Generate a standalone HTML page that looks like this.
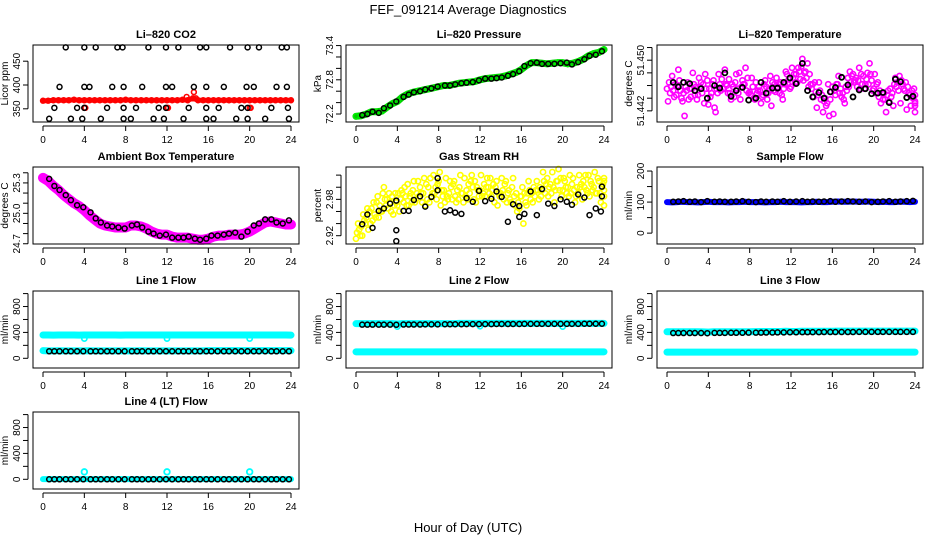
<!DOCTYPE html>
<html><head><meta charset="utf-8">
<style>
html,body{margin:0;padding:0;background:#fff;}
svg{display:block;font-family:"Liberation Sans",Arial,sans-serif;}
</style></head>
<body>
<svg id="chart" width="936" height="540" viewBox="0 0 936 540" xmlns="http://www.w3.org/2000/svg">
<rect width="936" height="540" fill="#fff"/>
<text x="468" y="14" font-size="13" text-anchor="middle">FEF_091214  Average Diagnostics</text>
<text x="468" y="532" font-size="13" text-anchor="middle">Hour of Day (UTC)</text>
</svg>
<script>
// ---- data ----
const hoursDense = [0,0.5,1,1.5,2,2.5,3,3.5,4,4.5,5,5.5,6,6.5,7,7.5,8,8.5,9,9.5,10,10.5,11,11.5,12,12.5,13,13.5,14,14.5,15,15.5,16,16.5,17,17.5,18,18.5,19,19.5,20,20.5,21,21.5,22,22.5,23,23.5,24];
const hoursBlack = [0.6,1.1,1.6,2.2,2.7,3.3,3.9,4.6,5.1,5.6,6.2,6.7,7.3,7.9,8.6,9.1,9.6,10.2,10.7,11.3,11.9,12.5,13.1,13.6,14.1,14.7,15.2,15.8,16.3,16.9,17.5,18,18.6,19.2,19.8,20.4,20.9,21.5,22.1,22.6,23.2,23.8];
const xTicks = [0,4,8,12,16,20,24];

// CO2
const co2Red = [367,367,368,368,368,368,369,368,368,368,368,368,368,368,368,368,369,368,368,368,368,368,368,368,368,368,368,369,368,372,368,368,368,368,368,368,368,368,368,368,368,368,368,368,368,368,368,368,368];
const co2RedExtraH = [13.9,14.6,14.8,4,4.1,12,12.1,20,20.1];
const co2RedExtraV = [375,385,372,352,352,352,352,352,352];
const co2BlackH = [2.2,4.0,5.1,7.2,7.7,10.2,11.9,13.1,15.2,15.8,18.1,19.8,20.9,23.1,23.6, 1.6,4.0,4.5,6.7,7.8,9.6,11.9,12.5,14.6,15.8,17.5,19.7,20.4,22.6,23.6, 1.1,3.3,4.0,6.2,7.8,9.0,11.2,11.9,14.1,15.8,17.0,19.2,19.8,22.1,23.7, 0.6,2.7,3.8,5.6,7.8,8.5,10.7,11.7,13.6,15.8,16.5,18.7,19.8,21.5,23.8];
const co2BlackV = [479,479,479,479,479,479,479,479,479,479,479,479,479,479,479, 396,396,396,396,396,396,396,396,396,396,396,396,396,396,396, 352,352,352,352,352,352,352,352,352,352,352,352,352,352,352, 329,329,329,329,329,329,329,329,329,329,329,329,329,329,329];
const co2Ticks = [350,400,450];
const co2Labels = ["350","400","450"];

// Pressure
const presGreen = [72.16,72.17,72.2,72.24,72.24,72.25,72.32,72.38,72.42,72.5,72.55,72.58,72.6,72.62,72.64,72.66,72.68,72.7,72.7,72.72,72.74,72.75,72.76,72.77,72.8,72.82,72.83,72.84,72.85,72.87,72.9,72.93,72.98,73.05,73.1,73.1,73.09,73.08,73.09,73.1,73.1,73.08,73.09,73.12,73.16,73.22,73.26,73.28,73.33];
const presBlack = [72.18,72.2,72.24,72.22,72.3,72.35,72.42,72.5,72.54,72.58,72.6,72.63,72.65,72.68,72.7,72.7,72.72,72.74,72.75,72.76,72.79,72.82,72.82,72.83,72.84,72.87,72.9,72.95,73.04,73.09,73.1,73.08,73.08,73.08,73.09,73.1,73.07,73.11,73.16,73.22,73.24,73.3];
const presTicks = [72.2,72.4,72.6,72.8,73.0,73.2,73.4];
const presLabels = ["72.2","","","72.8","","","73.4"];

// Li-820 temperature
const tempMag1 = [51.4455,51.4475,51.446,51.4435,51.4465,51.448,51.4445,51.4462,51.443,51.4468,51.4478,51.4455,51.447,51.4442,51.448,51.4462,51.445,51.4438,51.4452,51.4468,51.4475,51.445,51.4465,51.4482,51.4458,51.4478,51.449,51.4472,51.4455,51.4425,51.4445,51.4432,51.4458,51.4462,51.4448,51.4472,51.4478,51.4468,51.4475,51.4462,51.4455,51.4442,51.4448,51.4435,51.4462,51.4475,51.4452,51.4445,51.4428];
const tempMag2 = [51.4435,51.4452,51.4485,51.4448,51.4438,51.4462,51.4472,51.4432,51.4455,51.4425,51.4462,51.4485,51.4448,51.4465,51.4438,51.4488,51.4445,51.4465,51.4432,51.4458,51.4428,51.4472,51.4445,51.4478,51.4488,51.4465,51.4502,51.4495,51.4462,51.4445,51.4418,51.4462,51.4415,51.4475,51.4438,51.4458,51.4465,51.4488,51.4455,51.4495,51.4478,51.4452,51.4438,51.4455,51.4472,51.4432,51.4465,51.4428,51.4445];
const tempMag3 = [51.4465,51.4442,51.4468,51.4412,51.4455,51.4445,51.4458,51.4478,51.4442,51.4418,51.4452,51.4462,51.4438,51.4478,51.4458,51.4452,51.4472,51.4448,51.4442,51.4438,51.4465,51.4458,51.4438,51.4462,51.4472,51.4488,51.4468,51.4458,51.4442,51.4465,51.4435,51.4412,51.4452,51.4448,51.4432,51.4482,51.4468,51.4455,51.4462,51.4478,51.4448,51.4432,51.4418,51.4442,51.4458,51.4468,51.4422,51.4452,51.4418];
const tempMag4 = [51.4448,51.4462,51.4452,51.4458,51.4442,51.4458,51.4465,51.4455,51.4448,51.4455,51.4470,51.4460,51.4462,51.4455,51.4468,51.4472,51.4458,51.4452,51.4445,51.4448,51.4452,51.4462,51.4455,51.4470,51.4478,51.4482,51.4480,51.4478,51.4465,51.4452,51.4440,51.4438,51.4445,51.4455,51.4458,51.4465,51.4472,51.4478,51.4470,51.4468,51.4462,51.4448,51.4445,51.4448,51.4465,51.4462,51.4458,51.4440,51.4435];
const tempMag5 = [51.4458,51.4445,51.4440,51.4452,51.4455,51.4438,51.4448,51.4468,51.4462,51.4448,51.4455,51.4448,51.4458,51.4448,51.4462,51.4448,51.4440,51.4458,51.4462,51.4455,51.4462,51.4448,51.4462,51.4455,51.4465,51.4470,51.4482,51.4462,51.4450,51.4438,51.4428,51.4450,51.4462,51.4442,51.4452,51.4475,51.4458,51.4462,51.4480,51.4452,51.4465,51.4438,51.4452,51.4428,51.4452,51.4455,51.4448,51.4455,51.4432];
const tempBlack = [51.4465,51.4458,51.4465,51.4463,51.4452,51.4455,51.4440,51.4460,51.4456,51.4480,51.4443,51.4452,51.4457,51.4437,51.4440,51.4465,51.4448,51.4456,51.4456,51.4465,51.4472,51.4463,51.4495,51.4452,51.4442,51.4449,51.4440,51.4450,51.4457,51.4473,51.4461,51.4442,51.4453,51.4455,51.4447,51.4448,51.4449,51.4433,51.4470,51.4466,51.4441,51.4443];
const tempTicks = [51.442,51.444,51.446,51.448,51.450,51.452];
const tempLabels = ["51.442","","","","51.450",""];

// Ambient box temperature
const ambMag = [25.35,25.32,25.27,25.23,25.18,25.14,25.1,25.07,25.03,24.98,24.94,24.90,24.88,24.87,24.86,24.86,24.86,24.88,24.88,24.87,24.85,24.82,24.80,24.79,24.79,24.77,24.76,24.76,24.76,24.75,24.74,24.74,24.75,24.77,24.78,24.78,24.79,24.79,24.79,24.80,24.82,24.85,24.88,24.91,24.92,24.91,24.90,24.89,24.89];
const ambBlack = [25.34,25.27,25.23,25.18,25.13,25.08,25.06,25.01,24.95,24.91,24.88,24.87,24.86,24.85,24.88,24.89,24.86,24.82,24.80,24.78,24.79,24.76,24.76,24.76,24.77,24.75,24.74,24.75,24.78,24.78,24.79,24.80,24.81,24.77,24.82,24.88,24.90,24.94,24.94,24.91,24.90,24.93];
const ambTicks = [24.7,24.8,24.9,25.0,25.1,25.2,25.3,25.4];
const ambLabels = ["24.7","","","25.0","","","25.3",""];

// Gas stream RH
const rhY1 = [2.915,2.935,2.95,2.965,2.975,2.96,2.98,2.985,2.97,2.99,3.005,2.995,3.01,2.99,3.0,3.02,3.01,2.995,2.99,3.01,3.0,3.015,2.99,3.01,2.995,2.985,3.015,3.0,2.99,3.01,2.975,2.99,2.985,2.97,2.99,3.01,2.995,3.015,3.025,3.01,2.995,3.0,3.015,2.99,3.01,3.02,3.0,3.01,3.015];
const rhY2 = [2.925,2.92,2.965,2.945,2.985,2.99,2.965,2.955,2.99,2.975,2.97,3.01,2.985,3.015,2.975,2.99,3.025,2.975,3.01,2.985,3.02,2.985,3.01,2.975,3.02,3.0,2.985,3.01,3.015,2.975,3.0,2.96,3.0,2.99,2.975,2.995,3.025,2.985,3.0,3.03,3.015,2.985,2.995,3.02,3.0,2.985,3.025,2.99,2.995];
const rhY3 = [2.94,2.955,2.93,2.975,2.95,3.0,2.99,2.97,2.96,3.0,2.985,2.975,3.0,2.97,3.015,3.0,2.97,3.015,3.0,2.975,2.99,2.995,3.02,3.0,2.985,3.015,2.995,2.97,2.995,2.99,3.015,2.975,2.94,3.01,3.0,2.98,3.01,3.0,2.975,2.995,3.01,3.02,2.975,3.0,3.02,3.01,2.99,2.975,3.01];
const rhY4 = [2.93,2.945,2.96,2.955,2.97,2.98,2.975,2.99,2.98,2.985,2.99,2.98,2.99,3.005,2.985,2.98,2.995,2.985,2.98,2.995,2.99,2.98,3.0,2.995,2.99,3.0,3.005,2.99,2.98,2.995,2.985,2.965,2.99,2.995,2.985,3.0,2.99,3.005,2.995,3.015,3.0,2.99,2.985,3.005,2.995,3.005,2.99,3.0,2.985];
const rhY5 = [2.92,2.94,2.94,2.95,2.96,2.97,2.96,2.975,2.995,2.97,2.975,2.99,2.975,2.98,2.99,3.005,2.985,2.98,3.005,2.98,2.975,3.005,2.98,2.985,3.005,2.99,2.975,2.985,3.005,2.98,2.97,2.985,2.975,2.98,2.995,2.985,3.005,2.99,3.01,2.985,2.99,3.005,3.0,2.98,2.99,2.995,3.015,3.005,2.97];
const rhBlack = [2.939,2.955,2.933,2.961,2.965,2.973,2.978,2.961,2.961,2.979,2.985,2.968,2.984,2.995,2.96,2.962,2.958,2.956,2.982,2.976,2.994,2.977,2.981,2.993,2.984,2.943,2.972,2.969,2.956,2.993,2.954,2.997,2.973,2.969,2.98,2.976,2.971,2.988,2.983,2.954,2.965,3.001];
const rhExtraH = [3.9,3.9,7.9,15.8,23.8,23.7];
const rhExtraV = [2.929,2.911,3.015,2.951,2.985,2.96];
const rhTicks = [2.92,2.94,2.96,2.98,3.00,3.02];
const rhLabels = ["2.92","","","2.98","",""];

// Sample flow
const sampBlue = [100,99,100,101,100,100,99,100,101,100,100,100,99,100,100,101,100,100,100,99,100,100,101,100,100,100,99,100,100,101,100,100,101,102,101,101,102,101,101,102,101,100,101,100,100,101,101,100,101];
const sampBlack = [101,102,103,101,102,100,103,101,102,101,101,102,103,101,100,102,101,102,101,103,101,102,103,101,102,101,102,103,101,102,103,102,101,102,100,101,102,103,101,102,103,104];
const sampTicks = [0,50,100,150,200];
const sampLabels = ["0","","100","","200"];

// Line flows
const flowTicks = [0,200,400,600,800,1000];
const flowLabels = ["0","","400","","800",""];
const l1CyanHi = [360,360,358,360,360,360,360,358,360,360,360,360,360,360,360,358,360,360,360,360,360,360,360,360,360,360,360,360,360,360,360,360,360,360,360,360,360,360,360,360,360,360,360,360,360,360,360,360,358];
const l1CyanLo = [118,115,115,116,115,115,115,115,115,116,115,115,115,115,115,115,115,115,115,116,115,115,115,115,115,115,115,115,115,115,115,115,118,118,118,118,118,118,118,118,118,118,118,118,118,118,118,118,118];
const l1Black = [108,108,108,108,108,108,108,108,108,108,108,108,108,108,108,108,108,108,108,108,108,108,108,108,108,108,108,108,108,108,108,108,108,108,108,108,108,108,108,108,108,108];
const l1DipH = [4,12,20];
const l1DipV = [305,305,305];
const l2CyanHi = [535,535,535,535,535,535,535,535,530,535,535,535,535,535,535,535,535,535,535,535,540,540,540,540,540,540,540,540,540,540,540,540,540,540,540,540,540,540,540,540,540,540,540,540,540,540,540,540,540];
const l2CyanLo = [100,100,100,100,100,100,100,100,100,100,100,100,100,100,100,100,100,100,100,100,100,100,100,100,100,100,100,100,100,100,100,100,100,100,100,100,100,100,100,100,100,100,100,100,100,100,100,100,100];
const l2Black = [520,520,520,520,520,520,518,522,522,522,522,524,524,524,526,526,526,526,528,528,528,528,528,530,530,530,530,530,532,532,532,532,532,532,532,532,532,532,534,534,534,534];
const l2DipH = [4,12,20];
const l2DipV = [490,495,490];
const l3CyanHi = [410,410,410,410,410,410,410,408,405,410,410,410,410,410,410,410,410,412,415,415,415,415,415,418,415,415,418,418,418,418,418,418,418,420,420,420,420,420,420,420,420,420,420,420,420,420,420,420,420];
const l3CyanLo = [95,95,95,95,95,95,95,95,95,95,95,95,95,95,95,95,95,95,95,95,95,95,95,95,95,95,95,95,95,95,95,95,95,95,95,95,95,95,95,95,95,95,95,95,95,95,95,95,95];
const l3Black = [390,390,390,390,390,390,388,392,392,392,394,394,394,396,396,396,398,398,400,400,402,402,404,404,404,404,406,406,406,406,406,406,408,408,408,408,408,408,408,408,408,408];
const l4Cyan = [2,2,2,2,2,2,2,2,2,2,2,2,2,2,2,2,2,2,2,2,2,2,2,2,2,2,2,2,2,2,2,2,2,2,2,2,2,2,2,2,2,2,2,2,2,2,2,2,2];
const l4SpikeH = [4,12,20];
const l4SpikeV = [115,115,115];
const l4Black = [0,0,0,0,0,0,0,0,0,0,0,0,0,0,0,0,0,0,0,0,0,0,0,0,0,0,0,0,0,0,0,0,0,0,0,0,0,0,0,0,0,0];

// ---- drawing ----
const NS = "http://www.w3.org/2000/svg";
const svg = document.getElementById("chart");
const colsX = [33, 346, 657];
const rowsY = [45, 167, 291, 412];
const W = 266, H = 77;

function mk(tag, attrs, parent) {
  const e = document.createElementNS(NS, tag);
  for (const k in attrs) e.setAttribute(k, attrs[k]);
  (parent || svg).appendChild(e);
  return e;
}

function panel(id, col, row, title, ytitle, ymin, ymax, yt, yl) {
  const L = colsX[col], T = rowsY[row];
  const g = mk("g", {});
  
  
  const p = {g, L, T,
    x: h => L + 10 + Math.max(0, Math.min(24, h)) / 24 * 248,
    y: v => T + H - (v - ymin) / (ymax - ymin) * H};
  const t = mk("text", {x: L + W / 2, y: T - 7, "font-size": 11, "font-weight": "bold", "text-anchor": "middle"}, g);
  t.textContent = title;
  
  
  const ya = mk("g", {}, g);
  
  
  mk("line", {x1: L - 5, x2: L - 5, y1: p.y(yt[0]), y2: p.y(yt[yt.length - 1]), stroke: "#000"}, ya);
  yt.forEach((v, i) => {
    const yy = p.y(v);
    mk("line", {x1: L - 10, x2: L - 5, y1: yy, y2: yy, stroke: "#000"}, ya);
    if (yl[i]) {
      const tx = mk("text", {x: 0, y: 0, "font-size": 10, "text-anchor": "middle", transform: `translate(${L - 13},${yy}) rotate(-90)`}, ya);
      tx.textContent = yl[i];
    }
  });
  const yt2 = mk("text", {x: 0, y: 0, "font-size": 10, "text-anchor": "middle", transform: `translate(${L - 25},${T + H / 2}) rotate(-90)`}, g);
  yt2.textContent = ytitle;
  
  
  const xa = mk("g", {}, g);
  
  
  const by = T + H + 4;
  mk("line", {x1: p.x(xTicks[0]), x2: p.x(xTicks[xTicks.length - 1]), y1: by, y2: by, stroke: "#000"}, xa);
  xTicks.forEach(h => {
    mk("line", {x1: p.x(h), x2: p.x(h), y1: by, y2: by + 5, stroke: "#000"}, xa);
    const tx = mk("text", {x: p.x(h), y: by + 17, "font-size": 10, "text-anchor": "middle"}, xa);
    tx.textContent = h;
  });
  p.plot = mk("g", {}, g);
  
  
  const box = mk("rect", {x: L, y: T, width: W, height: H, fill: "none", stroke: "#000"}, g);
  
  
  return p;
}

function clipY(p, yy) { return Math.max(p.T + 1, Math.min(p.T + H - 1, yy)); }

function points(p, name, hs, vs, color, r, sw) {
  const g = mk("g", {}, p.plot);
  
  
  hs.forEach((h, i) => {
    const c = mk("circle", {cx: p.x(h), cy: clipY(p, p.y(vs[i])), r: r, fill: "none", stroke: color, "stroke-width": sw}, g);
    
    
  });
}

function band(p, name, hs, vs, color, width) {
  const pts = hs.map((h, i) => p.x(h) + "," + clipY(p, p.y(vs[i]))).join(" ");
  const pl = mk("polyline", {points: pts, fill: "none", stroke: color, "stroke-width": width, "stroke-linejoin": "round", "stroke-linecap": "round"}, p.plot);
  
  
}

const BLK = "#000", R = 2.5, SW = 1.5;
const shift = (arr, d) => arr.map(h => h + d);

// CO2
const pc = panel("co2", 0, 0, "Li\u2013820 CO2", "Licor ppm", 322.3, 484, co2Ticks, co2Labels);
band(pc, "co2-red-band", hoursDense, co2Red, "#ff0000", 5);
points(pc, "co2-red-series", hoursDense, co2Red, "#ff0000", 2.4, 1.6);
points(pc, "co2-red-extra", co2RedExtraH, co2RedExtraV, "#ff0000", 2.4, 1.6);
points(pc, "co2-black-series", co2BlackH, co2BlackV, BLK, R, SW);

// Pressure
const pp = panel("pressure", 1, 0, "Li\u2013820 Pressure", "kPa", 72.06, 73.41, presTicks, presLabels);
band(pp, "pressure-green-band", hoursDense, presGreen, "#00cc00", 7);
points(pp, "pressure-green-series", hoursDense, presGreen, "#00ee00", 2.6, 1.6);
points(pp, "pressure-black-series", hoursBlack, presBlack, BLK, R, SW);

// Li temp
const pt = panel("li-temp", 2, 0, "Li\u2013820 Temperature", "degrees C", 51.44024, 51.4524, tempTicks, tempLabels);
points(pt, "li-temp-magenta-1", hoursDense, tempMag1, "#ff00ff", 2.6, 1.6);
points(pt, "li-temp-magenta-2", shift(hoursDense, 0.1), tempMag2, "#ff00ff", 2.6, 1.6);
points(pt, "li-temp-magenta-3", shift(hoursDense, 0.2), tempMag3, "#ff00ff", 2.6, 1.6);
points(pt, "li-temp-magenta-4", shift(hoursDense, 0.3), tempMag4, "#ff00ff", 2.6, 1.6);
points(pt, "li-temp-magenta-5", shift(hoursDense, 0.4), tempMag5, "#ff00ff", 2.6, 1.6);
points(pt, "li-temp-black-series", hoursBlack, tempBlack, BLK, R, 1.8);

// Ambient
const pa = panel("ambient-temp", 0, 1, "Ambient Box Temperature", "degrees C", 24.6975, 25.457, ambTicks, ambLabels);
band(pa, "ambient-magenta-band", hoursDense, ambMag, "#ff00ff", 10);
points(pa, "ambient-black-series", hoursBlack, ambBlack, BLK, R, SW);

// RH
const pr = panel("gas-rh", 1, 1, "Gas Stream RH", "percent", 2.9063, 3.0334, rhTicks, rhLabels);
points(pr, "rh-yellow-1", hoursDense, rhY1, "#ffff00", 2.6, 1.6);
points(pr, "rh-yellow-2", shift(hoursDense, 0.1), rhY2, "#ffff00", 2.6, 1.6);
points(pr, "rh-yellow-3", shift(hoursDense, 0.2), rhY3, "#ffff00", 2.6, 1.6);
points(pr, "rh-yellow-4", shift(hoursDense, 0.3), rhY4, "#ffff00", 2.6, 1.6);
points(pr, "rh-yellow-5", shift(hoursDense, 0.4), rhY5, "#ffff00", 2.6, 1.6);
points(pr, "rh-black-series", hoursBlack, rhBlack, BLK, R, SW);
points(pr, "rh-black-extra", rhExtraH, rhExtraV, BLK, R, SW);

// Sample flow
const ps = panel("sample-flow", 2, 1, "Sample Flow", "ml/min", -35, 213, sampTicks, sampLabels);
band(ps, "sample-blue-band", hoursDense, sampBlue, "#0000ff", 6);
points(ps, "sample-black-series", hoursBlack, sampBlack, BLK, R, SW);

// Line flows
const p1 = panel("line1-flow", 0, 2, "Line 1 Flow", "ml/min", -150, 1040, flowTicks, flowLabels);
band(p1, "line1-cyan-high", hoursDense, l1CyanHi, "#00ffff", 7);
band(p1, "line1-cyan-low", hoursDense, l1CyanLo, "#00ffff", 7);
points(p1, "line1-cyan-dips", l1DipH, l1DipV, "#00ffff", 2.6, 1.6);
points(p1, "line1-black-series", hoursBlack, l1Black, BLK, R, SW);

const p2 = panel("line2-flow", 1, 2, "Line 2 Flow", "ml/min", -150, 1040, flowTicks, flowLabels);
band(p2, "line2-cyan-high", hoursDense, l2CyanHi, "#00ffff", 7);
band(p2, "line2-cyan-low", hoursDense, l2CyanLo, "#00ffff", 7);
points(p2, "line2-cyan-dips", l2DipH, l2DipV, "#00ffff", 2.6, 1.6);
points(p2, "line2-black-series", hoursBlack, l2Black, BLK, R, SW);

const p3 = panel("line3-flow", 2, 2, "Line 3 Flow", "ml/min", -150, 1040, flowTicks, flowLabels);
band(p3, "line3-cyan-high", hoursDense, l3CyanHi, "#00ffff", 7);
band(p3, "line3-cyan-low", hoursDense, l3CyanLo, "#00ffff", 7);
points(p3, "line3-black-series", hoursBlack, l3Black, BLK, R, SW);

const p4 = panel("line4-flow", 0, 3, "Line 4 (LT) Flow", "ml/min", -150, 1040, flowTicks, flowLabels);
band(p4, "line4-cyan-band", hoursDense, l4Cyan, "#00ffff", 6);
points(p4, "line4-cyan-spikes", l4SpikeH, l4SpikeV, "#00ffff", 2.8, 1.8);
points(p4, "line4-black-series", hoursBlack, l4Black, BLK, R, SW);
</script>
</body></html>
